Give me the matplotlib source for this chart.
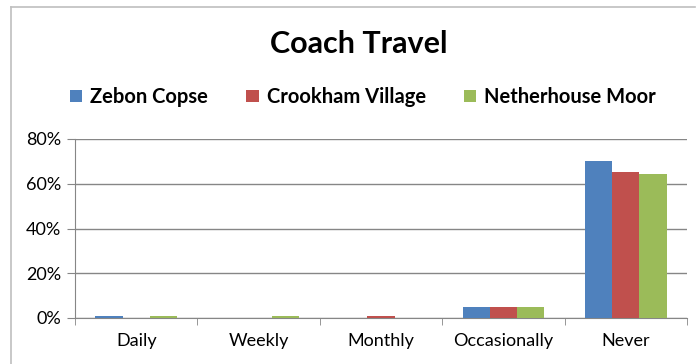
import matplotlib.pyplot as plt
from matplotlib.lines import Line2D
import numpy as np

# dados
categorias = ['Daily', 'Weekly', 'Monthly', 'Occasionally', 'Never']
series = ['Zebon Copse', 'Crookham Village', 'Netherhouse Moor']
zebon = [1.0, 0.0, 0.0, 4.9, 70.2]
crookham = [0.0, 0.0, 1.0, 4.9, 65.4]
netherhouse = [1.0, 1.0, 0.0, 4.9, 64.5]
cores = ['#4F81BD', '#C0504D', '#9BBB59']

plt.rcParams['font.family'] = ['Lato', 'DejaVu Sans']

fig = plt.figure(figsize=(6.96, 3.64), dpi=100, facecolor='white', edgecolor='white')

# moldura do grafico (so topo e esquerda aparecem)
topo = 1 - 7 / 364
esq = 11 / 696
fig.add_artist(Line2D([esq, 0.999], [topo, topo], transform=fig.transFigure,
                      color='#BFBFBF', linewidth=1.2))
fig.add_artist(Line2D([esq, esq], [0, topo], transform=fig.transFigure,
                      color='#BFBFBF', linewidth=1.2))

ax = fig.add_axes([75 / 696, 1 - 318 / 364, (687 - 75) / 696, (318 - 139) / 364])

x = np.arange(len(categorias))
largura = 1 / 4.5
for i, (nome, valores) in enumerate(zip(series, [zebon, crookham, netherhouse])):
    ax.bar(x + (i - 1) * largura, valores, largura, color=cores[i], label=nome, zorder=3)

ax.set_xlim(-0.5, len(categorias) - 0.5)
ax.set_ylim(0, 80)
ax.set_yticks([0, 20, 40, 60, 80])
ax.set_yticklabels(['0%', '20%', '40%', '60%', '80%'], fontsize=13)
ax.yaxis.grid(True, color='#868686', linewidth=1, zorder=0)
ax.set_xticks(x)
ax.set_xticklabels(categorias, fontsize=13)
ax.tick_params(axis='x', length=0, pad=11)
ax.set_xticks(np.arange(-0.5, len(categorias)), minor=True)
ax.tick_params(axis='x', which='minor', length=5, color='#868686')
ax.tick_params(axis='y', length=6, color='#868686', pad=4)

for lado in ['top', 'right']:
    ax.spines[lado].set_visible(False)
for lado in ['left', 'bottom']:
    ax.spines[lado].set_color('#868686')

fig.text(359 / 696, 1 - 44 / 364, 'Coach Travel', ha='center', va='center',
         fontsize=22, fontweight='bold')
fig.legend(loc='center', bbox_to_anchor=(363 / 696, 1 - 97 / 364), ncol=3,
           frameon=False, prop={'weight': 'bold', 'size': 14.5},
           handlelength=0.6, handleheight=0.6, handletextpad=0.4, columnspacing=1.9)

fig.savefig('out.png', dpi=100, facecolor='white')
